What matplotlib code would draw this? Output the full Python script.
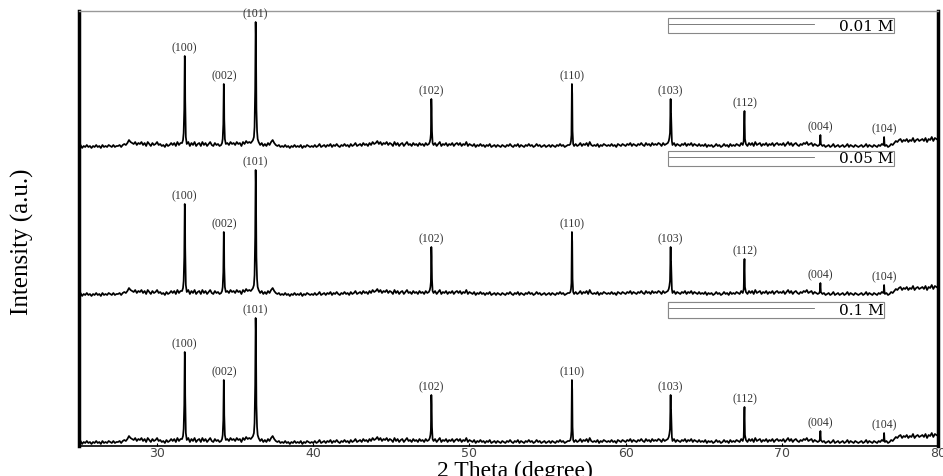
import numpy as np
import matplotlib.pyplot as plt

# XRD scan: counts on a 0.1 deg 2-theta grid (a.u.)
scan_start = 25.0
scan_step = 0.1
scan_counts = [
    2, 4, 1, 3, 2, 4, 2, 3, 1, 3,      # 25
    2, 4, 2, 3, 1, 4, 2, 3, 2, 4,      # 26
    3, 2, 4, 2, 3, 3, 4, 2, 4, 5,      # 27
    4, 6, 9, 7, 6, 5, 7, 4, 6, 5,      # 28
    7, 4, 6, 3, 7, 5, 3, 6, 4, 5,      # 29
    7, 4, 5, 3, 4, 2, 5, 3, 4, 6,      # 30
    4, 6, 3, 7, 4, 6, 6, 16, 50, 5,    # 31
    7, 3, 6, 4, 7, 3, 5, 6, 3, 7,      # 32
    4, 6, 3, 5, 7, 4, 3, 6, 4, 5,      # 33
    3, 4, 10, 30, 5, 6, 4, 7, 5, 6,    # 34
    4, 7, 5, 6, 3, 7, 5, 8, 6, 7,      # 35
    6, 8, 12, 100, 18, 7, 4, 6, 3, 5,  # 36
    3, 6, 4, 7, 9, 6, 4, 3, 4, 2,      # 37
    3, 2, 4, 2, 3, 1, 3, 2, 4, 2,      # 38
    3, 2, 4, 1, 3, 2, 4, 3, 2, 3,      # 39
    2, 4, 2, 3, 5, 2, 3, 4, 2, 4,      # 40
    3, 5, 2, 4, 3, 5, 3, 2, 4, 3,      # 41
    5, 3, 4, 2, 5, 3, 4, 6, 3, 4,      # 42
    5, 3, 6, 4, 5, 3, 6, 4, 7, 5,      # 43
    6, 8, 5, 7, 4, 6, 5, 7, 4, 6,      # 44
    5, 3, 7, 4, 6, 3, 5, 6, 3, 5,      # 45
    7, 4, 5, 3, 6, 4, 5, 3, 6, 4,      # 46
    5, 3, 6, 4, 5, 10, 18, 4, 6, 3,    # 47
    5, 7, 3, 5, 4, 6, 3, 5, 4, 6,      # 48
    3, 5, 6, 4, 6, 3, 5, 4, 7, 3,      # 49
    5, 4, 3, 5, 2, 4, 3, 5, 3, 4,      # 50
    2, 4, 3, 5, 2, 3, 4, 2, 4, 3,      # 51
    2, 4, 3, 2, 4, 3, 5, 3, 2, 4,      # 52
    3, 5, 2, 4, 3, 2, 4, 3, 5, 3,      # 53
    4, 2, 3, 5, 3, 4, 2, 3, 4, 2,      # 54
    3, 4, 2, 4, 3, 2, 4, 3, 5, 3,      # 55
    4, 2, 3, 4, 4, 8, 18, 3, 5, 3,     # 56
    4, 6, 3, 5, 4, 6, 3, 7, 4, 3,      # 57
    4, 3, 5, 2, 4, 3, 5, 4, 3, 4,      # 58
    3, 5, 3, 4, 2, 5, 4, 3, 5, 4,      # 59
    3, 5, 4, 6, 3, 5, 4, 3, 5, 4,      # 60
    6, 4, 3, 6, 4, 5, 3, 6, 4, 5,      # 61
    4, 6, 5, 3, 6, 4, 5, 6, 11, 30,    # 62
    4, 6, 3, 5, 4, 3, 5, 4, 6, 3,      # 63
    5, 4, 6, 3, 5, 4, 3, 5, 3, 4,      # 64
    3, 5, 2, 4, 3, 4, 2, 3, 5, 3,      # 65
    4, 2, 3, 5, 3, 4, 2, 5, 3, 4,      # 66
    3, 5, 4, 3, 6, 4, 35, 5, 3, 6,     # 67
    4, 6, 3, 7, 4, 5, 6, 3, 5, 4,      # 68
    6, 3, 5, 4, 6, 3, 5, 6, 4, 5,      # 69
    4, 6, 3, 5, 7, 4, 6, 3, 5, 6,      # 70
    4, 3, 5, 4, 6, 5, 7, 4, 5, 6,      # 71
    3, 5, 4, 3, 4, 5, 3, 4, 2, 3,      # 72
    4, 2, 3, 5, 2, 3, 4, 2, 3, 4,      # 73
    2, 3, 5, 2, 4, 3, 2, 4, 3, 2,      # 74
    3, 4, 2, 3, 5, 2, 4, 3, 2, 4,      # 75
    3, 2, 4, 3, 5, 4, 3, 4, 2, 3,      # 76
    5, 4, 6, 8, 7, 9, 10, 7, 9, 8,     # 77
    10, 7, 9, 8, 11, 7, 9, 10, 8, 9,   # 78
    10, 8, 11, 7, 10, 9, 12, 8, 11, 10,  # 79
    9,                                 # 80
]

# finer points across the sharp reflections
peak_fine_theta = [31.66, 31.74, 31.77, 31.79, 31.84,
                   34.16, 34.24, 34.27, 34.29, 34.34,
                   36.14, 36.24, 36.28, 36.31, 36.33, 36.36, 36.44,
                   47.46, 47.53, 47.56, 47.58, 47.64,
                   56.46, 56.53, 56.56, 56.58, 56.64,
                   62.76, 62.84, 62.88, 62.91, 62.96,
                   67.56, 67.59, 67.61, 67.64,
                   72.44, 72.47, 72.49,
                   76.52, 76.55, 76.57]
peak_fine_counts = [9, 40, 93, 85, 12,
                    6, 25, 65, 55, 10,
                    9, 22, 60, 127, 110, 40, 10,
                    7, 15, 50, 40, 6,
                    5, 14, 65, 55, 5,
                    8, 16, 50, 35, 8,
                    8, 30, 38, 10,
                    6, 14, 8,
                    5, 12, 6]

# Miller indices
hkl_labels = ['(100)', '(002)', '(101)', '(102)', '(110)', '(103)', '(112)', '(004)', '(104)']
hkl_theta = [31.77, 34.27, 36.31, 47.56, 56.56, 62.88, 67.61, 72.47, 76.55]
hkl_counts = [93, 65, 127, 50, 65, 50, 38, 14, 12]

# samples (the three patterns in the figure are the same trace)
samples = ['0.01 M', '0.05 M', '0.1 M']
sample_offsets = [297, 149, 1]
legend_y = [0.984, 0.679, 0.331]

grid_theta = np.round(scan_start + scan_step * np.arange(len(scan_counts)), 2)
theta = np.concatenate([grid_theta, peak_fine_theta])
counts = np.concatenate([scan_counts, peak_fine_counts])
order = np.argsort(theta, kind='stable')
theta, counts = theta[order], counts[order]

fig = plt.figure(figsize=(9.43, 4.77), dpi=100)
ax = fig.add_axes([79 / 943, 30 / 477, 859 / 943, 435 / 477])

for name, off, ly in zip(samples, sample_offsets, legend_y):
    line, = ax.plot(theta, counts + off, color='black', lw=1.25, label=name)
    for lab, t, c in zip(hkl_labels, hkl_theta, hkl_counts):
        ax.annotate(lab, (t, c + off), xytext=(0, 2), textcoords='offset points',
                    ha='center', va='bottom', fontsize=8.5, color='#333333',
                    family='Liberation Serif')
    leg = ax.legend(handles=[line], loc='upper left', bbox_to_anchor=(0.686, ly),
                    frameon=True, fancybox=False, edgecolor='#888888', framealpha=1,
                    handlelength=9.5, handletextpad=1.6, borderpad=0.05,
                    borderaxespad=0, prop={'family': 'DejaVu Serif', 'size': 11})
    leg.get_frame().set_linewidth(0.8)
    leg.get_lines()[0].set_linewidth(0.6)
    leg.get_lines()[0].set_color('#666666')
    ax.add_artist(leg)

ax.set_xlim(25, 80)
ax.set_ylim(0, 435)
ax.set_yticks([])
ax.set_xticks([30, 40, 50, 60, 70, 80])
ax.tick_params(axis='x', length=2, direction='in', pad=0, labelsize=9,
               labelcolor='#444444')

ax.spines['left'].set_linewidth(2.5)
ax.spines['right'].set_linewidth(2.5)
ax.spines['top'].set_color('#999999')
ax.spines['top'].set_linewidth(1)
ax.spines['bottom'].set_linewidth(1.2)

fig.text(515 / 943, 1 - 471 / 477, '2 Theta (degree)', ha='center', va='center',
         fontsize=17, family='Liberation Serif')
fig.text(22 / 943, 1 - 242 / 477, 'Intensity (a.u.)', ha='center', va='center',
         rotation=90, fontsize=18, family='Liberation Serif')

fig.savefig('out.png', dpi=100)
